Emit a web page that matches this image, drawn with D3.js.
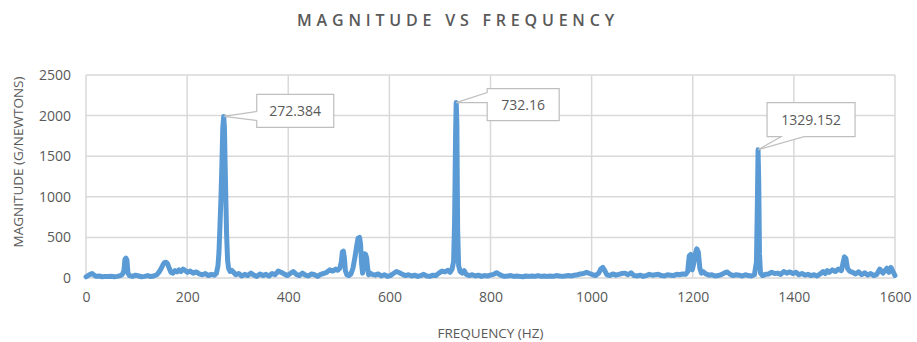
<!DOCTYPE html>
<html>
<head>
<meta charset="utf-8">
<script src="https://cdn.jsdelivr.net/npm/d3@7"></script>
<style>
  body { margin: 0; background: #fff; }
  svg text { font-family: "Open Sans", sans-serif; fill: #595959; }
</style>
</head>
<body>
<div id="chart"></div>
<script>
// spectrum (Hz, g/N)
const freqHz = [
  0, 4, 8, 12, 16, 20, 26, 32, 38, 44,
  50, 56, 62, 68, 72, 75, 77, 79, 81, 83,
  86, 92, 98, 104, 110, 116, 122, 128, 134, 140,
  144, 148, 152, 155, 158, 161, 164, 168, 172, 176,
  180, 184, 188, 192, 196, 200, 206, 212, 218, 224,
  230, 236, 242, 248, 254, 258, 261, 263, 265, 267,
  269, 270.5, 272.384, 273.8, 275, 276.5, 278, 280, 282, 285,
  288, 292, 296, 302, 308, 314, 320, 326, 332, 338,
  344, 350, 356, 362, 368, 374, 380, 386, 392, 398,
  404, 410, 416, 422, 428, 434, 440, 446, 452, 458,
  464, 470, 476, 482, 488, 494, 498, 502, 505, 507,
  509, 511, 513, 516, 520, 524, 528, 532, 535, 538,
  541, 543, 545, 547, 549, 551, 553, 555, 557, 559,
  562, 566, 572, 578, 584, 590, 596, 602, 608, 614,
  620, 626, 632, 638, 644, 650, 656, 662, 668, 674,
  680, 686, 692, 698, 704, 710, 716, 720, 724, 727,
  729, 731, 732.16, 733.5, 735, 737, 740, 744, 748, 752,
  758, 764, 770, 776, 782, 788, 794, 800, 806, 812,
  816, 822, 828, 834, 840, 846, 852, 858, 864, 870,
  876, 882, 888, 894, 900, 906, 912, 918, 924, 930,
  936, 942, 948, 954, 960, 966, 972, 978, 984, 990,
  996, 1002, 1008, 1014, 1018, 1022, 1026, 1030, 1036, 1042,
  1048, 1054, 1060, 1066, 1072, 1078, 1084, 1090, 1096, 1102,
  1108, 1114, 1120, 1126, 1132, 1138, 1144, 1150, 1156, 1162,
  1168, 1174, 1180, 1186, 1190, 1193, 1196, 1199, 1202, 1205,
  1208, 1211, 1214, 1217, 1220, 1226, 1232, 1238, 1244, 1250,
  1256, 1262, 1268, 1274, 1280, 1286, 1292, 1298, 1304, 1310,
  1316, 1322, 1326, 1328, 1329.152, 1330.5, 1332, 1334, 1338, 1344,
  1350, 1356, 1362, 1368, 1374, 1380, 1386, 1392, 1398, 1404,
  1410, 1416, 1422, 1428, 1434, 1440, 1446, 1452, 1458, 1462,
  1466, 1470, 1476, 1482, 1488, 1494, 1497, 1500, 1503, 1506,
  1510, 1516, 1522, 1528, 1534, 1540, 1546, 1552, 1558, 1564,
  1570, 1576, 1580, 1584, 1588, 1592, 1596, 1600
];
const magnitude = [
  15, 30, 45, 55, 35, 20, 25, 15, 20, 18,
  22, 15, 20, 30, 45, 90, 230, 245, 220, 60,
  30, 20, 35, 25, 15, 20, 30, 18, 25, 40,
  70, 110, 160, 190, 195, 180, 130, 70, 60, 90,
  75, 100, 80, 110, 95, 70, 85, 60, 75, 50,
  40, 55, 30, 45, 35, 60, 150, 320, 650, 1000,
  1450, 1850, 1990, 1850, 1450, 1000, 550, 220, 120, 80,
  95, 70, 40, 55, 25, 45, 30, 60, 35, 20,
  50, 30, 45, 25, 55, 40, 85, 70, 50, 30,
  55, 80, 45, 30, 60, 35, 25, 50, 40, 20,
  45, 55, 70, 100, 85, 110, 95, 120, 200, 320,
  330, 250, 90, 40, 30, 50, 120, 260, 380, 490,
  500, 420, 180, 60, 150, 300, 290, 250, 120, 40,
  60, 45, 35, 50, 25, 40, 20, 30, 55, 80,
  65, 45, 30, 40, 25, 35, 20, 30, 45, 25,
  20, 35, 30, 60, 85, 75, 95, 70, 110, 200,
  700, 1800, 2160, 1900, 600, 150, 80, 60, 90, 45,
  30, 40, 25, 35, 20, 30, 25, 35, 45, 65,
  50, 30, 20, 25, 30, 20, 25, 20, 15, 25,
  20, 25, 20, 30, 20, 25, 20, 25, 20, 30,
  25, 20, 25, 30, 25, 35, 40, 50, 55, 70,
  55, 40, 30, 60, 110, 130, 90, 40, 30, 50,
  35, 45, 55, 60, 40, 65, 30, 25, 35, 20,
  30, 45, 35, 40, 45, 30, 25, 40, 35, 30,
  45, 40, 50, 45, 80, 270, 290, 100, 180, 300,
  360, 320, 120, 60, 80, 50, 35, 40, 25, 30,
  40, 60, 75, 45, 30, 40, 35, 25, 40, 30,
  25, 40, 200, 1000, 1580, 1200, 300, 60, 30, 45,
  50, 70, 55, 60, 45, 80, 60, 75, 55, 70,
  40, 55, 35, 45, 30, 40, 25, 50, 80, 55,
  90, 70, 100, 80, 110, 90, 180, 260, 240, 120,
  85, 70, 50, 75, 40, 65, 35, 55, 30, 45,
  110, 60, 90, 120, 70, 130, 80, 30
];
const xTicks = [0, 200, 400, 600, 800, 1000, 1200, 1400, 1600];
const yTicks = [0, 500, 1000, 1500, 2000, 2500];

// labelled peaks
const peakFreq = [272.384, 732.16, 1329.152];
const peakMag = [1990, 2160, 1580];
const peakLabel = ["272.384", "732.16", "1329.152"];

let margin = { top: 75, left: 86, right: 22, bottom: 64 },
    W = 917, H = 342,
    width = W - margin.left - margin.right,
    height = H - margin.top - margin.bottom;

let svg = d3.select("#chart").append("svg")
    .attr("width", W)
    .attr("height", H);

let g = svg.append("g")
    .attr("transform", "translate(" + margin.left + "," + margin.top + ")");

let x = d3.scaleLinear().domain([0, 1600]).range([0, width]);
let y = d3.scaleLinear().domain([0, 2500]).range([height, 0]);

// grid
g.append("g").selectAll("line")
    .data(yTicks)
    .enter().append("line")
    .attr("x1", 0).attr("x2", width)
    .attr("y1", d => y(d)).attr("y2", d => y(d))
    .attr("stroke", "#d9d9d9").attr("stroke-width", 1.5);

g.append("g").selectAll("line")
    .data(xTicks)
    .enter().append("line")
    .attr("y1", 0).attr("y2", height)
    .attr("x1", d => x(d)).attr("x2", d => x(d))
    .attr("stroke", "#d9d9d9").attr("stroke-width", 1.5);

// axes (labels only)
let xAxis = g.append("g")
    .attr("transform", "translate(0," + height + ")")
    .call(d3.axisBottom(x).tickValues(xTicks).tickSize(0).tickPadding(14).tickFormat(d3.format("d")));
xAxis.select(".domain").remove();
xAxis.selectAll("text").style("font-size", "14px").attr("fill", "#595959");

let yAxis = g.append("g")
    .call(d3.axisLeft(y).tickValues(yTicks).tickSize(0).tickPadding(15).tickFormat(d3.format("d")));
yAxis.select(".domain").remove();
yAxis.selectAll("text").style("font-size", "14px").attr("fill", "#595959");

// the spectrum
let pts = freqHz.map((f, i) => [f, magnitude[i]]);
let line = d3.line().x(d => x(d[0])).y(d => y(d[1]));

g.append("path")
    .datum(pts)
    .attr("d", line)
    .attr("fill", "none")
    .attr("stroke", "#5b9bd5")
    .attr("stroke-width", 5)
    .attr("stroke-linejoin", "round")
    .attr("stroke-linecap", "round");

// callouts: box offset from peak + where the pointer leaves the box
let callouts = [
    { dx: 33, dy: -22, w: 77, h: 33, side: "left", a: 17, b: 26 },
    { dx: 31, dy: -14, w: 72, h: 32, side: "left", a: 4, b: 14 },
    { dx: 9, dy: -47, w: 88, h: 34, side: "bottom", a: 14, b: 37 }
];

function calloutPath(px, py, c) {
    let bx = px + c.dx, by = py + c.dy, p = d3.path();
    if (c.side == "left") {
        p.moveTo(bx, by);
        p.lineTo(bx + c.w, by);
        p.lineTo(bx + c.w, by + c.h);
        p.lineTo(bx, by + c.h);
        p.lineTo(bx, by + c.b);
        p.lineTo(px, py);
        p.lineTo(bx, by + c.a);
    } else {
        p.moveTo(bx, by);
        p.lineTo(bx + c.w, by);
        p.lineTo(bx + c.w, by + c.h);
        p.lineTo(bx + c.b, by + c.h);
        p.lineTo(px, py);
        p.lineTo(bx + c.a, by + c.h);
        p.lineTo(bx, by + c.h);
    }
    p.closePath();
    return p.toString();
}

let ann = g.append("g").selectAll("g")
    .data(peakFreq)
    .enter().append("g");

ann.append("path")
    .attr("d", (d, i) => calloutPath(x(d), y(peakMag[i]), callouts[i]))
    .attr("fill", "#fff")
    .attr("stroke", "#bfbfbf")
    .attr("stroke-width", 1.2);

ann.append("text")
    .attr("x", (d, i) => x(d) + callouts[i].dx + callouts[i].w / 2)
    .attr("y", (d, i) => y(peakMag[i]) + callouts[i].dy + callouts[i].h / 2)
    .attr("dy", "0.35em")
    .attr("text-anchor", "middle")
    .style("font-size", "14px")
    .text((d, i) => peakLabel[i]);

// title
svg.append("text")
    .attr("x", 458)
    .attr("y", 26)
    .attr("text-anchor", "middle")
    .style("font-size", "16px")
    .style("font-weight", "600")
    .style("letter-spacing", "4.8px")
    .text("MAGNITUDE VS FREQUENCY");

// axis titles
svg.append("text")
    .attr("x", margin.left + width / 2)
    .attr("y", 338)
    .attr("text-anchor", "middle")
    .style("font-size", "13.5px")
    .text("FREQUENCY (HZ)");

svg.append("text")
    .attr("transform", "translate(23,162) rotate(-90)")
    .attr("text-anchor", "middle")
    .style("font-size", "13.5px")
    .text("MAGNITUDE (G/NEWTONS)");
</script>
</body>
</html>
